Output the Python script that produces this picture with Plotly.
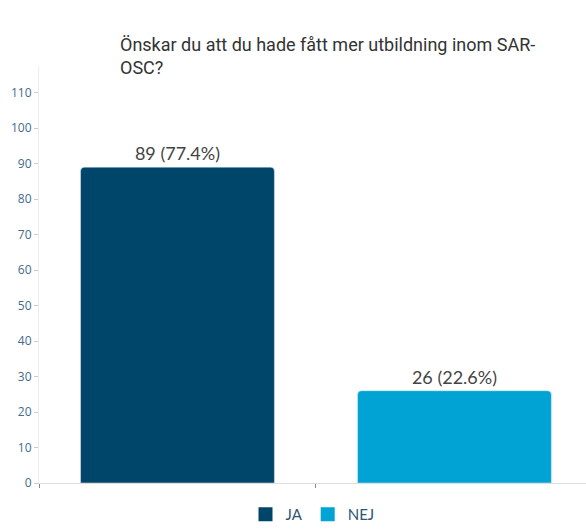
import plotly.graph_objects as go

categories = ['JA', 'NEJ']
counts = [89, 26]
percents = [77.4, 22.6]
colors = ['#00456a', '#00a3d4']
title = 'Önskar du att du hade fått mer utbildning inom SAR-<br>OSC?'

fig = go.Figure()
for cat, n, p, c in zip(categories, counts, percents, colors):
  fig.add_trace(go.Bar(
    x=[cat], y=[n], name=cat, showlegend=False,
    text=['%d (%.1f%%)' % (n, p)], textposition='outside',
    textfont=dict(family='Lato', size=18, color='#444444'),
    marker=dict(color=c, cornerradius=4),
    offsetgroup='a', cliponaxis=False))
  # legend entry with a square swatch
  fig.add_trace(go.Scatter(
    x=[None], y=[None], mode='markers', name=cat,
    marker=dict(symbol='square', size=14, color=c)))

# title as an annotation, so it sits exactly where the original has it
fig.add_annotation(text=title, xref='paper', yref='paper', align='left',
                   x=(118 - 39) / 547, xanchor='left',
                   y=1 + (66 - 56) / 417, yanchor='middle',
                   showarrow=False,
                   font=dict(family='Roboto', size=18, color='#333333'))

fig.update_layout(
  width=586, height=531,
  margin=dict(l=39, r=0, t=66, b=48),
  paper_bgcolor='white', plot_bgcolor='white',
  bargap=0.3,
  legend=dict(orientation='h', x=0.5, xanchor='center', y=-0.115, yanchor='bottom',
              font=dict(family='Lato', size=15, color='#2f5573'),
              itemwidth=30, traceorder='normal'),
)
fig.update_xaxes(range=[-0.5, 1.475], showticklabels=False, tickson='boundaries',
                 ticks='outside', ticklen=4, tickcolor='#888888', automargin=False,
                 showline=True, linecolor='#dddddd', showgrid=False, zeroline=False)
fig.update_yaxes(range=[0, 117.5], tickvals=list(range(0, 120, 10)),
                 ticks='outside', ticklen=4, tickcolor='#cccccc', automargin=False,
                 tickfont=dict(family='Open Sans', size=12, color='#3f6b8c'),
                 showline=True, linecolor='#eeeeee', showgrid=False, zeroline=False)

fig.write_html('out.html', config={'displayModeBar': False},
               post_script="document.body.style.margin='0px';")
